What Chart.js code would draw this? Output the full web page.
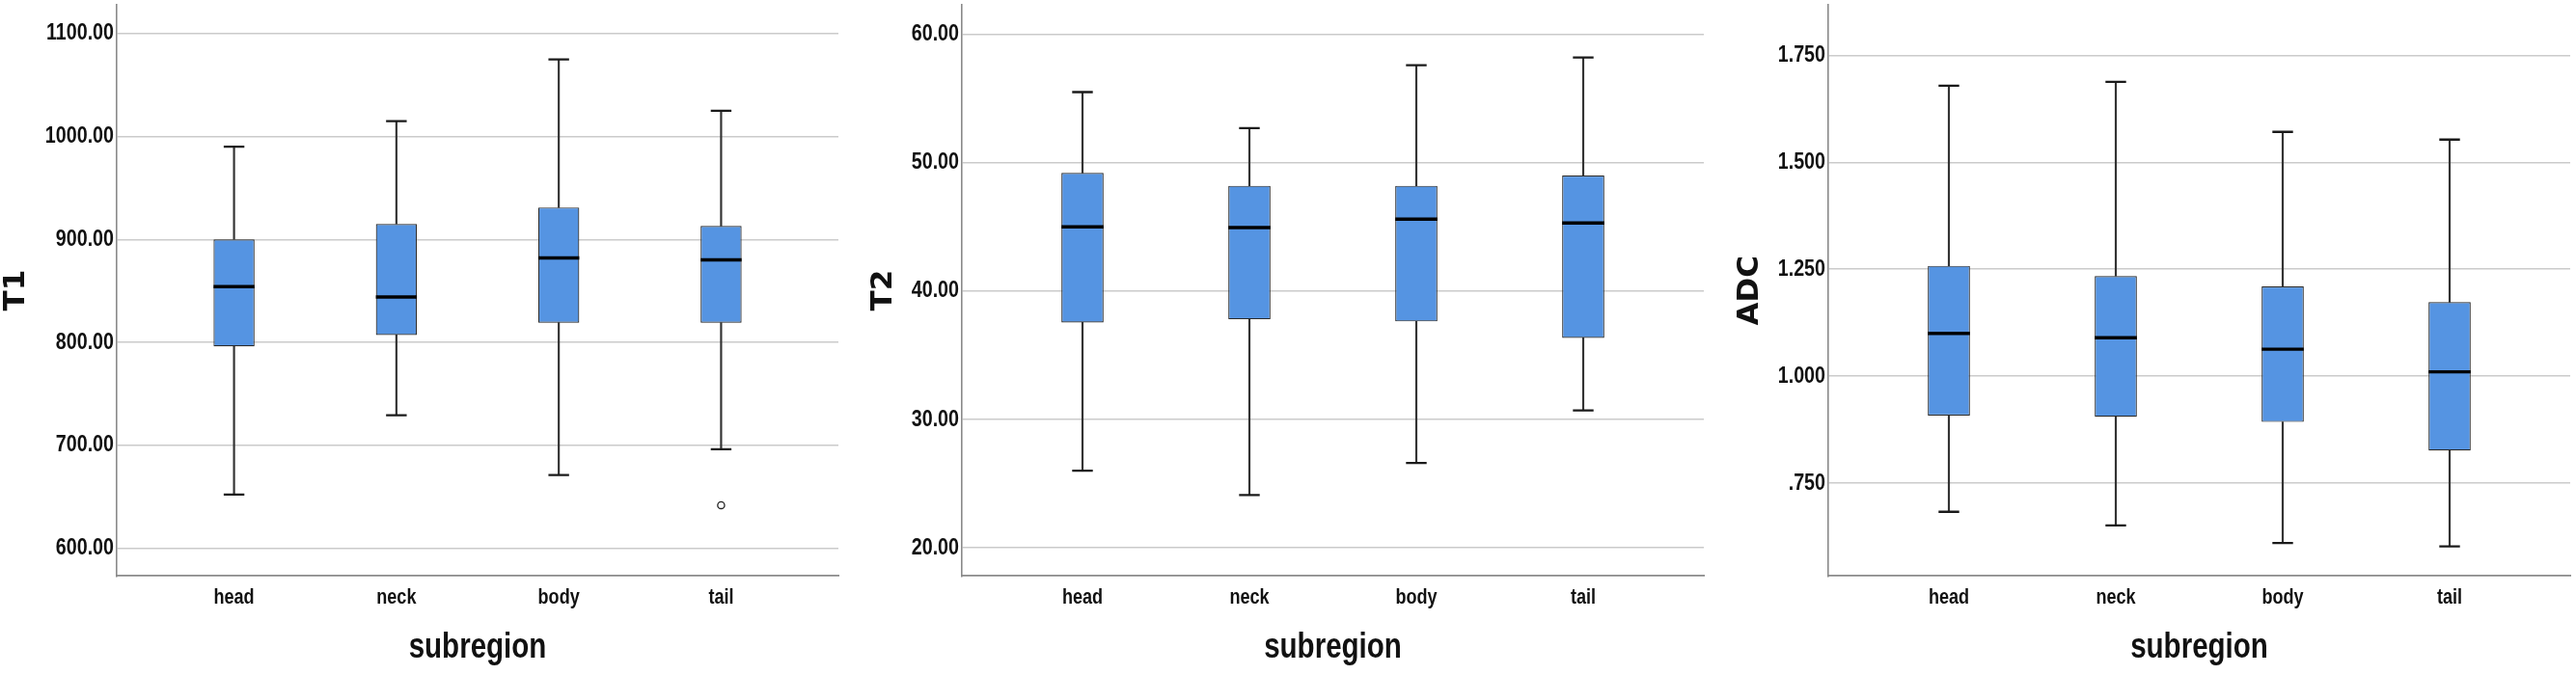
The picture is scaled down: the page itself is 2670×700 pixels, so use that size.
<!DOCTYPE html>
<html>
<head>
<meta charset="utf-8">
<script src="https://cdn.jsdelivr.net/npm/chart.js@4.4.1/dist/chart.umd.min.js"></script>
<style>
html, body { margin: 0; padding: 0; background: #ffffff; }
#wrap { position: relative; width: 2670px; height: 700px; background: #ffffff; }
.panel { position: absolute; top: 0; width: 890px; height: 700px; }
</style>
</head>
<body>
<div id="wrap">
  <div class="panel" style="left:0px"><canvas id="c1"></canvas></div>
  <div class="panel" style="left:890px"><canvas id="c2"></canvas></div>
  <div class="panel" style="left:1780px"><canvas id="c3"></canvas></div>
</div>
<script>
// ---------------- data ----------------
const categories = ['head', 'neck', 'body', 'tail'];
const xTitle = 'subregion';

// T1
const t1Min    = [652, 729, 671, 696];
const t1Q1     = [796, 807, 819, 819];
const t1Median = [854, 844, 882, 880];
const t1Q3     = [900, 915, 931, 913];
const t1Max    = [990, 1015, 1075, 1025];
const t1OutlierCat = [3];
const t1OutlierVal = [641.6];
const t1Ticks  = [600, 700, 800, 900, 1000, 1100];
const t1Range  = [572.8, 1128];

// T2
const t2Min    = [26.0, 24.1, 26.6, 30.7];
const t2Q1     = [37.55, 37.8, 37.63, 36.35];
const t2Median = [45.0, 44.95, 45.6, 45.3];
const t2Q3     = [49.2, 48.2, 48.2, 49.0];
const t2Max    = [55.5, 52.7, 57.6, 58.2];
const t2OutlierCat = [];
const t2OutlierVal = [];
const t2Ticks  = [20, 30, 40, 50, 60];
const t2Range  = [17.8, 62.3];

// ADC
const adcMin    = [0.683, 0.651, 0.610, 0.602];
const adcQ1     = [0.908, 0.905, 0.893, 0.826];
const adcMedian = [1.100, 1.090, 1.063, 1.010];
const adcQ3     = [1.258, 1.234, 1.210, 1.173];
const adcMax    = [1.679, 1.688, 1.571, 1.553];
const adcOutlierCat = [];
const adcOutlierVal = [];
const adcTicks  = [0.75, 1.0, 1.25, 1.5, 1.75];
const adcRange  = [0.533, 1.868];

// ---------------- styling ----------------
const BOX_FILL = '#5594e2';
const BOX_EDGE = '#2a2a2a';
const WHISKER = '#333333';
const GRID = '#cbcbcb';
const AXIS = '#8a8a8a';
const BOX_FRAC = 0.2525;
const X_PAD = 0.7225;
const NARROW_FAMILY = "'Liberation Sans', Arial, sans-serif";
const NARROW_SCALE = 0.82;   // emulate a narrow (condensed) face
const TITLE_FONT = "'DejaVu Sans', Verdana, sans-serif";

Chart.defaults.animation = false;
Chart.defaults.events = [];

// Plugin: draw Liberation Sans text horizontally condensed (Arial-Narrow look)
const narrowTextPlugin = {
  id: 'narrowText',
  beforeDraw(chart) {
    const ctx = chart.ctx;
    if (ctx.__narrowPatched) return;
    ctx.__narrowPatched = true;
    const orig = ctx.fillText;
    ctx.fillText = function (t, x, y, mw) {
      if (this.font.indexOf('Liberation Sans') >= 0) {
        this.save();
        this.translate(x, y);
        this.scale(NARROW_SCALE, 1);
        if (mw === undefined || mw === null) orig.call(this, t, 0, 0);
        else orig.call(this, t, 0, 0, mw / NARROW_SCALE);
        this.restore();
      } else {
        if (mw === undefined || mw === null) orig.call(this, t, x, y);
        else orig.call(this, t, x, y, mw);
      }
    };
  }
};

function fmt2(v) { return v.toFixed(2); }
function fmtAdc(v) { let s = v.toFixed(3); if (s.startsWith('0')) s = s.slice(1); return s; }

function makeBoxChart(id, o) {
  const xs = categories.map((c, i) => i);
  const upperWhisk = xs.map(i => ({ x: i, y: [o.q3[i], o.max[i]] }));
  const lowerWhisk = xs.map(i => ({ x: i, y: [o.min[i], o.q1[i]] }));
  const boxes = xs.map(i => ({ x: i, y: [o.q1[i], o.q3[i]] }));
  const medians = xs.map(i => ({ x: i, y: o.median[i] }));
  const caps = xs.map(i => ({ x: i, y: o.max[i] })).concat(xs.map(i => ({ x: i, y: o.min[i] })));
  const outliers = o.outCat.map((c, k) => ({ x: c, y: o.outVal[k] }));

  const halfBox = (ctx) => {
    const sx = ctx.chart.scales.x;
    return Math.abs(sx.getPixelForValue(1) - sx.getPixelForValue(0)) * BOX_FRAC / 2;
  };

  new Chart(document.getElementById(id), {
    type: 'bar',
    plugins: [narrowTextPlugin],
    data: {
      datasets: [
        { type: 'bar', data: upperWhisk, backgroundColor: WHISKER, borderWidth: 0, barThickness: 1.5, grouped: false, order: 6 },
        { type: 'bar', data: lowerWhisk, backgroundColor: WHISKER, borderWidth: 0, barThickness: 1.5, grouped: false, order: 6 },
        { type: 'bar', data: boxes, backgroundColor: BOX_FILL, borderColor: BOX_EDGE, borderWidth: 1.2,
          borderSkipped: false, categoryPercentage: 1, barPercentage: BOX_FRAC, grouped: false, order: 4 },
        { type: 'scatter', data: caps, pointStyle: 'line', pointRadius: 10.7, pointBorderWidth: 2.3,
          pointBorderColor: '#1a1a1a', order: 3 },
        { type: 'scatter', data: medians, pointStyle: 'line', pointRadius: halfBox, pointBorderWidth: 3.4,
          pointBorderColor: '#000000', order: 2 },
        { type: 'scatter', data: outliers, pointStyle: 'circle', pointRadius: 3.6, pointBorderWidth: 1.3,
          pointBorderColor: '#222222', pointBackgroundColor: '#ffffff', order: 1 }
      ]
    },
    options: {
      responsive: true,
      maintainAspectRatio: false,
      animation: false,
      layout: { autoPadding: false, padding: { top: 5, left: 0, right: o.rightPad, bottom: 0 } },
      plugins: { legend: { display: false }, tooltip: { enabled: false }, title: { display: false } },
      scales: {
        x: {
          type: 'linear',
          offset: false,
          min: -X_PAD,
          max: categories.length - 1 + X_PAD,
          afterBuildTicks: (s) => { s.ticks = xs.map(v => ({ value: v })); },
          afterFit: (s) => { s.height = 700 - 597.3; s.paddingLeft = 0; s.paddingRight = 0; },
          grid: { display: false, drawTicks: false },
          border: { display: true, color: AXIS, width: 1.8 },
          ticks: {
            padding: 9,
            color: '#111111',
            autoSkip: false,
            maxRotation: 0,
            font: { family: NARROW_FAMILY, size: 22, weight: 'bold' },
            callback: (v) => categories[v] !== undefined ? categories[v] : ''
          },
          title: {
            display: true, text: xTitle, color: '#111111',
            font: { family: NARROW_FAMILY, size: 36, weight: 'bold', lineHeight: 1.2 },
            padding: { top: 0, bottom: 6 }
          }
        },
        y: {
          type: 'linear',
          min: o.range[0],
          max: o.range[1],
          afterBuildTicks: (s) => { s.ticks = o.ticks.map(v => ({ value: v })); },
          afterFit: (s) => { s.width = o.axisLeft; s.paddingTop = 0; s.paddingBottom = 0; },
          grid: { display: true, color: GRID, lineWidth: 1.4, drawTicks: false },
          border: { display: true, color: AXIS, width: 1.6 },
          ticks: {
            padding: 3,
            color: '#111111',
            font: { family: NARROW_FAMILY, size: 24, weight: 'bold' },
            callback: o.fmt
          },
          title: {
            display: true, text: o.yTitle, color: '#111111',
            font: { family: TITLE_FONT, size: 31, weight: 'bold', lineHeight: 1.0 },
            padding: { top: o.titlePad, bottom: 0 }
          }
        }
      }
    }
  });
}

makeBoxChart('c1', { min: t1Min, q1: t1Q1, median: t1Median, q3: t1Q3, max: t1Max,
  outCat: t1OutlierCat, outVal: t1OutlierVal, ticks: t1Ticks, range: t1Range, fmt: fmt2,
  yTitle: 'T1', axisLeft: 121, rightPad: 21, titlePad: 1.5 });
makeBoxChart('c2', { min: t2Min, q1: t2Q1, median: t2Median, q3: t2Q3, max: t2Max,
  outCat: t2OutlierCat, outVal: t2OutlierVal, ticks: t2Ticks, range: t2Range, fmt: fmt2,
  yTitle: 'T2', axisLeft: 107, rightPad: 14, titlePad: 10.5 });
makeBoxChart('c3', { min: adcMin, q1: adcQ1, median: adcMedian, q3: adcQ3, max: adcMax,
  outCat: adcOutlierCat, outVal: adcOutlierVal, ticks: adcTicks, range: adcRange, fmt: fmtAdc,
  yTitle: 'ADC', axisLeft: 115, rightPad: 6, titlePad: 18.5 });
</script>
</body>
</html>
